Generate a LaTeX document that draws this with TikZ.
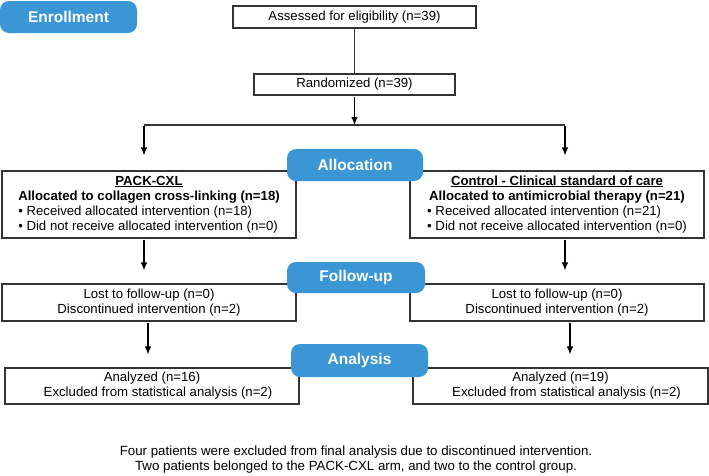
\documentclass[tikz,border=0pt]{standalone}
\usepackage{fontspec}
\setmainfont{Liberation Sans}
\usetikzlibrary{arrows.meta}
\definecolor{tagblue}{RGB}{58,150,212}

\begin{document}
\begin{tikzpicture}[x=1pt, y=-1pt,
  box/.style = {draw=black!80, line width=1.1pt, inner sep=0pt, align=center,
                font=\fontsize{13.2}{15}\selectfont},
  tag/.style = {fill=tagblue, rounded corners=9pt, inner sep=0pt, text=white,
                font=\fontsize{15.5}{18}\selectfont\bfseries},
  arr/.style = {-{Latex[length=8pt,width=6.5pt]}, line width=1.1pt, shorten >=13pt, shorten <=1pt}]
\useasboundingbox (0,0) rectangle (709,475);

% enrollment
\node[tag, minimum width=137pt, minimum height=32pt] (enr) at (68.5,17) {Enrollment};
\node[box, minimum width=243pt, minimum height=22pt] (ass) at (354.5,17) {Assessed for eligibility (n=39)};
\node[box, minimum width=201pt, minimum height=21pt] (rand) at (354.5,84.5) {Randomized (n=39)};
\coordinate (sl) at (144,125);
\coordinate (sr) at (565,125);

% allocation
\node[box, minimum width=294pt, minimum height=67pt] (allocL) at (149,204.5) {%
  \begin{tabular}{@{}l@{}}
  \multicolumn{1}{@{}c@{}}{\underline{\textbf{PACK-CXL}}}\\
  \textbf{Allocated to collagen cross-linking (n=18)}\\
  • Received allocated intervention (n=18)\\
  • Did not receive allocated intervention (n=0)
  \end{tabular}};
\node[box, minimum width=294pt, minimum height=67pt] (allocR) at (557,204.5) {%
  \begin{tabular}{@{}l@{}}
  \multicolumn{1}{@{}c@{}}{\underline{\textbf{Control - Clinical standard of care}}}\\
  \multicolumn{1}{@{}c@{}}{\textbf{Allocated to antimicrobial therapy (n=21)}}\\
  • Received allocated intervention (n=21)\\
  • Did not receive allocated intervention (n=0)
  \end{tabular}};

% follow-up
\node[box, minimum width=294pt, minimum height=37pt] (follL) at (149,302.5) {Lost to follow-up (n=0)\\Discontinued intervention (n=2)};
\node[box, minimum width=294pt, minimum height=37pt] (follR) at (557,302.5) {Lost to follow-up (n=0)\\Discontinued intervention (n=2)};

% analysis
\node[box, minimum width=294pt, minimum height=36pt] (anaL) at (152,386) {Analyzed (n=16)\\\hspace*{12pt}Excluded from statistical analysis (n=2)};
\node[box, minimum width=295pt, minimum height=36pt] (anaR) at (560.5,386) {Analyzed (n=19)\\\hspace*{12pt}Excluded from statistical analysis (n=2)};

% stage tags on top of the boxes
\node[tag, minimum width=136pt, minimum height=32pt] (alloc) at (355,165) {Allocation};
\node[tag, minimum width=138pt, minimum height=31pt] (fol) at (356,277.5) {Follow-up};
\node[tag, minimum width=137pt, minimum height=33pt] (ana) at (359.5,360.5) {Analysis};

\node[align=center, font=\fontsize{13.3}{15}\selectfont] (note) at (356,459.5)
  {Four patients were excluded from final analysis due to discontinued intervention.\\
   Two patients belonged to the PACK-CXL arm, and two to the control group.};

% connectors
\draw[black!80, line width=1.1pt] (ass) -- (rand);
\draw[arr, shorten >=0pt] (rand) -- (rand |- sl);
\draw[black!80, line width=1.1pt] (sl) -- (sr);
\draw[arr, shorten >=15pt] (sl) -- (sl |- allocL.north);
\draw[arr, shorten >=15pt] (sr) -- (sr |- allocR.north);
\draw[arr] (sl |- allocL.south) -- (sl |- follL.north);
\draw[arr] (sr |- allocR.south) -- (sr |- follR.north);
\draw[arr] ([xshift=4pt]sl |- follL.south) -- ([xshift=4pt]sl |- anaL.north);
\draw[arr] ([xshift=5pt]sr |- follR.south) -- ([xshift=5pt]sr |- anaR.north);
\end{tikzpicture}
\end{document}
